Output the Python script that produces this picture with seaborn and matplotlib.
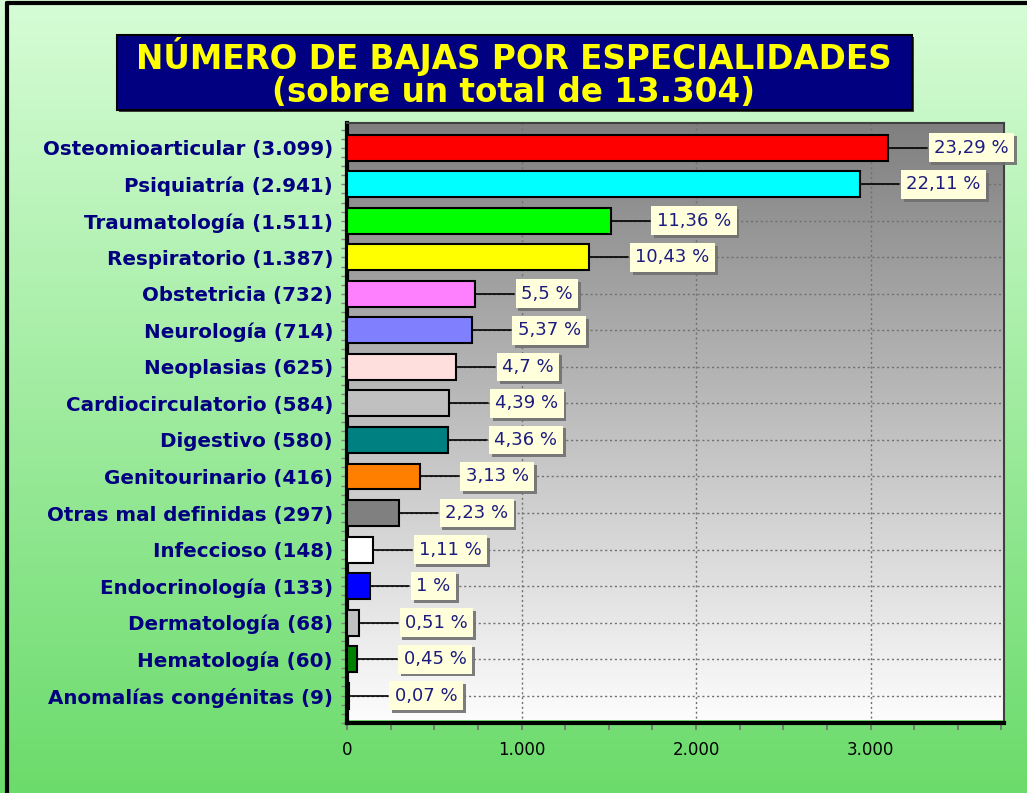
import numpy as np
import pandas as pd
import seaborn as sns
import matplotlib.pyplot as plt
from matplotlib.patches import Rectangle
from matplotlib.lines import Line2D
import matplotlib.patheffects as pe

# data
especialidades = ["Osteomioarticular", "Psiquiatría", "Traumatología", "Respiratorio",
                  "Obstetricia", "Neurología", "Neoplasias", "Cardiocirculatorio",
                  "Digestivo", "Genitourinario", "Otras mal definidas", "Infeccioso",
                  "Endocrinología", "Dermatología", "Hematología", "Anomalías congénitas"]
bajas = [3099, 2941, 1511, 1387, 732, 714, 625, 584, 580, 416, 297, 148, 133, 68, 60, 9]
porcentajes = ["23,29 %", "22,11 %", "11,36 %", "10,43 %", "5,5 %", "5,37 %", "4,7 %",
               "4,39 %", "4,36 %", "3,13 %", "2,23 %", "1,11 %", "1 %", "0,51 %",
               "0,45 %", "0,07 %"]
colores = ["#ff0000", "#00ffff", "#00ff00", "#ffff00", "#ff80ff", "#8080ff", "#ffdede",
           "#c0c0c0", "#008080", "#ff8000", "#808080", "#ffffff", "#0000ff", "#c0c0c0",
           "#008000", "#800000"]
xticks = [0, 1000, 2000, 3000]
xticklabels = ["0", "1.000", "2.000", "3.000"]

etiquetas = [f"{n} ({v:,})".replace(",", ".") for n, v in zip(especialidades, bajas)]
df = pd.DataFrame({"etiqueta": etiquetas, "bajas": bajas})

sns.set_style("white")
plt.rcParams["font.family"] = ["DejaVu Sans"]

fig = plt.figure(figsize=(10.27, 7.93), dpi=100)

# green gradient background of the whole figure
bg = fig.add_axes([0, 0, 1, 1], zorder=-10)
grad = np.linspace(0, 1, 256).reshape(-1, 1)
top_c = np.array([0.84, 0.99, 0.84])
bot_c = np.array([0.42, 0.86, 0.42])
img = top_c * (1 - grad[..., None]) + bot_c * grad[..., None]
bg.imshow(img, aspect="auto", extent=[0, 1, 0, 1], origin="upper")
bg.set_axis_off()

# frame lines top / left
fig.add_artist(Line2D([7 / 1027, 1], [1 - 3 / 793] * 2, color="black", lw=3))
fig.add_artist(Line2D([7 / 1027] * 2, [0, 1 - 3 / 793], color="black", lw=3))

ax = fig.add_axes([347 / 1027, 1 - 723 / 793, (1004 - 347) / 1027, 600 / 793])
ax.set_facecolor("none")

sns.barplot(data=df, x="bajas", y="etiqueta", hue="etiqueta", palette=colores,
            order=etiquetas, legend=False, orient="h", width=0.71, saturation=1,
            edgecolor="black", linewidth=1.5, ax=ax, zorder=3)

xmax = 3765
ax.set_xlim(0, xmax)
ax.set_ylim(len(bajas) - 1 + 0.68, -0.68)

# grey-to-white gradient inside the plot area
g2 = np.linspace(0.5, 0.99, 256).reshape(-1, 1)
ax.imshow(np.dstack([g2, g2, g2]), aspect="auto", extent=[0, xmax, len(bajas) - 1 + 0.68, -0.68],
          zorder=0)

ax.grid(True, ls=(0, (1.5, 2)), color="#707070", lw=1.0, zorder=1)
ax.set_axisbelow(True)

# percentage labels with leader lines
for i, (v, p) in enumerate(zip(bajas, porcentajes)):
    ax.plot([v, v + 225], [i, i], color="black", lw=1.2, zorder=4)
    t = ax.text(v + 265, i, p, ha="left", va="center", fontsize=13, color="#1c1c80",
                zorder=6, bbox=dict(boxstyle="square,pad=0.3", fc="#ffffdc", ec="none"))
    t.get_bbox_patch().set_path_effects([
        pe.SimplePatchShadow(offset=(2, -2), shadow_rgbFace="#707070", alpha=0.9),
        pe.Normal()])

ax.set_xticks(xticks)
ax.set_xticklabels(xticklabels, fontsize=12, color="black")
ax.set_xticks(np.arange(0, xmax, 250), minor=True)
ax.set_yticks(np.arange(-0.5, len(bajas), 0.25), minor=True)
ax.tick_params(axis="x", which="both", direction="out", length=5, width=1.2,
               color="#707070", bottom=True, pad=8)
ax.tick_params(axis="y", which="both", direction="out", length=4, width=1,
               color="#808080", left=True, pad=6)
for lbl in ax.get_yticklabels():
    lbl.set_fontweight("bold")
    lbl.set_color("#000080")
    lbl.set_fontsize(14.3)
ax.set_xlabel("")
ax.set_ylabel("")

for s in ["left", "bottom"]:
    ax.spines[s].set_color("black")
    ax.spines[s].set_linewidth(3)
for s in ["top", "right"]:
    ax.spines[s].set_color("#404040")
    ax.spines[s].set_linewidth(1.5)

# title box
fig.add_artist(Rectangle((119 / 1027, 1 - 112 / 793), 795 / 1027, 75 / 793,
                         transform=fig.transFigure, fc="#404040", ec="none"))
fig.add_artist(Rectangle((117 / 1027, 1 - 110 / 793), 795 / 1027, 75 / 793,
                         transform=fig.transFigure, fc="#000080", ec="black", lw=1.5))
fig.text(514 / 1027, 1 - 57 / 793, "NÚMERO DE BAJAS POR ESPECIALIDADES", ha="center",
         va="center", color="#ffff00", fontsize=23.5, fontweight="bold")
fig.text(514 / 1027, 1 - 93 / 793, "(sobre un total de 13.304)", ha="center",
         va="center", color="#ffff00", fontsize=23.5, fontweight="bold")

fig.savefig("out.png", dpi=100)
